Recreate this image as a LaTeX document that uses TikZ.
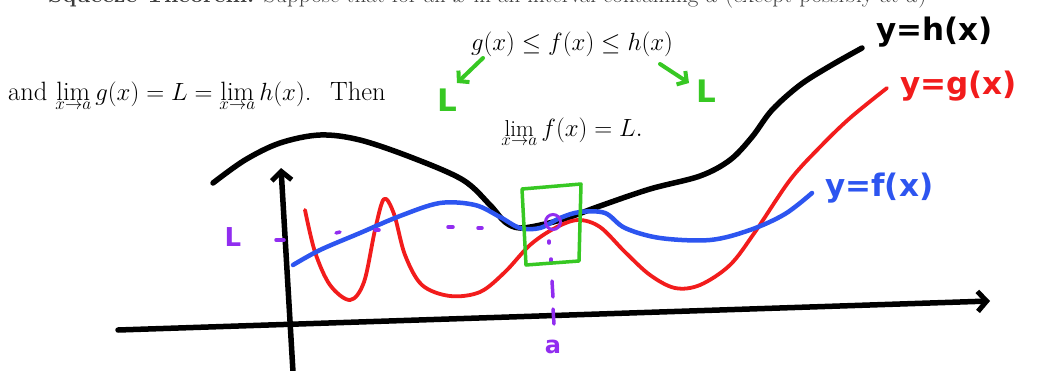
\documentclass[tikz,border=0pt]{standalone}
\usepackage{fontspec}
\usetikzlibrary{arrows.meta}
\newfontfamily\hand{DejaVu Sans}
\definecolor{gred}{RGB}{242,28,28}
\definecolor{fblue}{RGB}{45,85,240}
\definecolor{mgreen}{RGB}{55,200,35}
\definecolor{lpurple}{RGB}{145,45,240}
\definecolor{tgray}{RGB}{60,60,60}
\begin{document}
\begin{tikzpicture}[x=1pt,y=-1pt,
  curve/.style={line cap=round,line join=round},
  hcurve/.style={curve,line width=5.5pt,black},
  gcurve/.style={curve,line width=3.8pt,gred},
  fcurve/.style={curve,line width=4.5pt,fblue},
  axis/.style={curve,line width=5.5pt,black,-{Straight Barb[length=9pt,width=20pt,line width=5pt]}},
  garrow/.style={curve,line width=4pt,mgreen,-{Straight Barb[length=7pt,width=16pt,line width=4pt]}},
  mtext/.style={inner sep=0pt,font=\fontsize{23}{28}\selectfont},
  handlbl/.style={inner sep=0pt,font=\hand\bfseries\fontsize{31}{34}\selectfont},
  pdash/.style={line width=3.5pt,lpurple,line cap=round}]
\useasboundingbox (0,0) rectangle (1041,370);
\fill[white] (0,0) rectangle (1041,370);
% cut off heading
\node[mtext,anchor=base west,text=tgray] (head) at (48,2) {\textbf{Squeeze Theorem:} Suppose that for all $x$ in an interval containing $a$ (except possibly at $a$)};
% texts
\node[mtext,anchor=west,font=\fontsize{26.5}{30}\selectfont] (cond) at (8,96) {and $\displaystyle\lim_{x\to a} g(x) = L = \lim_{x\to a} h(x)$. \ Then};
\node[mtext] (ineq) at (572,44) {$g(x) \le f(x) \le h(x)$};
\node[mtext] (concl) at (572,132) {$\displaystyle\lim_{x\to a} f(x) = L.$};
% axes
\coordinate (xs) at (118,330);
\coordinate (xe) at (990,301);
\coordinate (ys) at (293,372);
\coordinate (ye) at (281,168);
\draw[axis] (xs) -- (xe);
\draw[axis] (ys) -- (ye);
% curves
\draw[hcurve] plot[smooth,tension=0.55] coordinates {(213,183) (245,160) (280,143) (320,135) (360,140) (413,158) (463,180) (490,205) (505,222) (520,228) (545,224) (570,217) (600,206) (650,189) (700,176) (730,160) (752,137) (772,110) (800,85) (830,66) (862,48)};
\draw[gcurve] plot[smooth,tension=0.55] coordinates {(305,210) (315,252) (330,285) (350,300) (364,282) (375,230) (384,199) (394,214) (405,255) (422,285) (450,296) (480,292) (505,272) (530,245) (555,228) (578,220) (600,227) (625,252) (650,275) (675,288) (700,285) (730,265) (755,232) (790,180) (820,147) (850,118) (887,88)};
\draw[fcurve] plot[smooth,tension=0.55] coordinates {(293,265) (320,250) (360,233) (400,216) (440,203) (475,205) (500,217) (520,228) (540,228) (560,218) (580,212) (605,213) (625,228) (660,238) (710,240) (750,230) (785,214) (812,193)};
% purple L level and a
\node[handlbl,text=lpurple,font=\hand\bfseries\fontsize{26}{30}\selectfont] (Lp) at (233,237) {L};
\draw[pdash] (276,240) -- (284,240);
\draw[pdash] (336,233) -- (340,232);
\draw[pdash] (375,230) -- (379,230);
\draw[pdash] (448,227) -- (453,227);
\draw[pdash] (478,228) -- (482,228);
\node[draw=lpurple,line width=3pt,circle,minimum size=15pt,inner sep=0pt] (hole) at (553,222) {};
\draw[pdash] (549,241) -- (549,243);
\draw[pdash] (551,259) -- (551,262);
\draw[pdash] (552,281) -- (553,297);
\draw[pdash] (553,309) -- (554,324);
\node[handlbl,text=lpurple,font=\hand\bfseries\fontsize{24}{28}\selectfont] (alab) at (553,347) {a};
% green box
\draw[mgreen,line width=3.5pt,line join=round] (522,189) -- (581,184) -- (579,261) -- (526,265) -- cycle;
% green arrows and L
\coordinate (la1) at (483,58);
\coordinate (la2) at (457,83);
\coordinate (ra1) at (660,64);
\coordinate (ra2) at (689,83);
\draw[garrow] (la1) -- (la2);
\draw[garrow] (ra1) -- (ra2);
\node[handlbl,text=mgreen] (Lg1) at (447,100) {L};
\node[handlbl,text=mgreen] (Lg2) at (706,91) {L};
% curve labels
\node[handlbl,anchor=west] (hlab) at (876,32) {y=h(x)};
\node[handlbl,anchor=west,text=gred] (glab) at (900,86) {y=g(x)};
\node[handlbl,anchor=west,text=fblue] (flab) at (825,188) {y=f(x)};
\end{tikzpicture}
\end{document}
